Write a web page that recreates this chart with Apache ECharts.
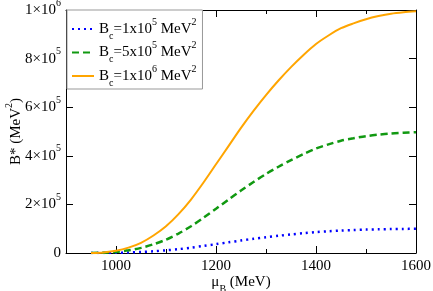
<!DOCTYPE html>
<html>
<head>
<meta charset="utf-8">
<script src="https://cdn.jsdelivr.net/npm/echarts@6/dist/echarts.min.js"></script>
<style>html,body{margin:0;padding:0;background:#fff}#c{width:433px;height:291px}</style>
</head>
<body>
<div id="c"></div>
<script>
const muB = [950, 975, 1000, 1025, 1050, 1075, 1100, 1125, 1150, 1175, 1200, 1225, 1250, 1275, 1300, 1325, 1350, 1375, 1400, 1425, 1450, 1475, 1500, 1525, 1550, 1575, 1600];
const bc1e6 = [0, 2500, 9000, 22000, 42000, 72000, 110000, 160000, 220000, 290000, 365000, 440000, 515000, 585000, 650000, 710000, 765000, 815000, 860000, 895000, 925000, 945000, 962000, 975000, 985000, 991000, 995000];
const bc5e5 = [0, 1200, 4500, 11000, 21000, 36000, 55000, 80000, 110000, 145000, 182000, 220000, 257000, 292000, 325000, 355000, 382000, 407000, 430000, 447000, 462000, 472000, 481000, 487000, 492000, 495000, 497000];
const bc1e5 = [0, 250, 900, 2200, 4200, 7200, 11000, 16000, 22000, 29000, 36500, 44000, 51500, 58500, 65000, 71000, 76500, 81500, 86000, 89500, 92500, 94500, 96200, 97500, 98500, 99100, 99500];
const seriesNames = ['Bc=1x10^5', 'Bc=5x10^5', 'Bc=1x10^6'];
const xMajorTicks = [1000, 1200, 1400, 1600];
const xMinorTicks = [1100, 1300, 1500];

const FONT = 'Liberation Serif';
const rich = {
  n: {fontFamily: FONT, fontSize: 15, color: '#000', lineHeight: 24},
  sup: {fontFamily: FONT, fontSize: 10, color: '#000', lineHeight: 11, verticalAlign: 'top'},
  sub: {fontFamily: FONT, fontSize: 10, color: '#000', lineHeight: 17, verticalAlign: 'bottom'}
};
function pts(ys) { return muB.map((x, i) => [x, ys[i]]); }
const legendText = {
  'Bc=1x10^5': '{n|B}{sub|c}{n|=1x10}{sup|5}{n| MeV}{sup|2}',
  'Bc=5x10^5': '{n|B}{sub|c}{n|=5x10}{sup|5}{n| MeV}{sup|2}',
  'Bc=1x10^6': '{n|B}{sub|c}{n|=1x10}{sup|6}{n| MeV}{sup|2}'
};
const chart = echarts.init(document.getElementById('c'), null, {renderer: 'canvas'});
const axLine = {show: true, lineStyle: {color: '#000', width: 1}};
const common = {min: 900, max: 1600, type: 'value', splitLine: {show: false}};
chart.setOption({
  animation: false,
  backgroundColor: '#fff',
  grid: {left: 66, right: 17, top: 10, bottom: 38, containLabel: false, outerBoundsMode: 'none'},
  legend: {
    orient: 'vertical', left: 67, top: 10,
    backgroundColor: '#fff', borderColor: '#999', borderWidth: 1,
    padding: [7, 6, 1, 4], itemGap: -0.5, itemWidth: 22, itemHeight: 14,
    data: seriesNames,
    itemStyle: {opacity: 0},
    formatter: n => legendText[n],
    textStyle: {rich: rich}
  },
  xAxis: [
    Object.assign({}, common, {
      position: 'bottom',
      axisLine: axLine,
      axisTick: {show: true, inside: true, length: 7, customValues: xMajorTicks, lineStyle: {color: '#000'}},
      axisLabel: {customValues: xMajorTicks, formatter: v => String(v), fontFamily: FONT, fontSize: 15, color: '#000', margin: 6},
      name: '{n|μ}{sub|B}{n| (MeV)}', nameLocation: 'middle', nameGap: 17, nameMoveOverlap: false,
      nameTextStyle: {rich: rich}
    }),
    Object.assign({}, common, {
      position: 'bottom', axisLine: {show: false},
      axisTick: {show: true, inside: true, length: 4, customValues: xMinorTicks, lineStyle: {color: '#000'}},
      axisLabel: {show: false}
    }),
    Object.assign({}, common, {
      position: 'top', axisLine: axLine,
      axisTick: {show: true, inside: true, length: 7, customValues: xMajorTicks, lineStyle: {color: '#000'}},
      axisLabel: {show: false}
    }),
    Object.assign({}, common, {
      position: 'top', axisLine: {show: false},
      axisTick: {show: true, inside: true, length: 4, customValues: xMinorTicks, lineStyle: {color: '#000'}},
      axisLabel: {show: false}
    })
  ],
  yAxis: [
    {
      type: 'value', min: 0, max: 1000000, interval: 200000, position: 'left',
      splitLine: {show: false}, axisLine: axLine,
      axisTick: {show: true, inside: true, length: 7, lineStyle: {color: '#000'}},
      axisLabel: {
        margin: 5,
        formatter: v => {
          if (v === 0) return '{n|0}';
          const e = Math.floor(Math.log10(v) + 1e-9);
          const m = Math.round(v / Math.pow(10, e));
          return '{n|' + m + '×10}{sup|' + e + '}';
        },
        rich: rich
      },
      name: '{n|B* (MeV}{sup|2}{n|)}', nameLocation: 'middle', nameGap: 38, nameRotate: 90, nameMoveOverlap: false,
      nameTextStyle: {rich: rich}
    },
    {
      type: 'value', min: 0, max: 1000000, interval: 200000, position: 'right',
      splitLine: {show: false}, axisLine: axLine,
      axisTick: {show: true, inside: true, length: 7, lineStyle: {color: '#000'}},
      axisLabel: {show: false}
    }
  ],
  series: [
    {name: 'Bc=1x10^5', type: 'line', data: pts(bc1e5), symbol: 'none', smooth: 0.3,
     color: '#0000ff', lineStyle: {color: '#0000ff', width: 2.5, type: [2, 4]}},
    {name: 'Bc=5x10^5', type: 'line', data: pts(bc5e5), symbol: 'none', smooth: 0.3,
     color: '#119911', lineStyle: {color: '#119911', width: 2.5, type: [7, 4]}},
    {name: 'Bc=1x10^6', type: 'line', data: pts(bc1e6), symbol: 'none', smooth: 0.3,
     color: '#ffa500', lineStyle: {color: '#ffa500', width: 2}}
  ]
});
</script>
</body>
</html>
